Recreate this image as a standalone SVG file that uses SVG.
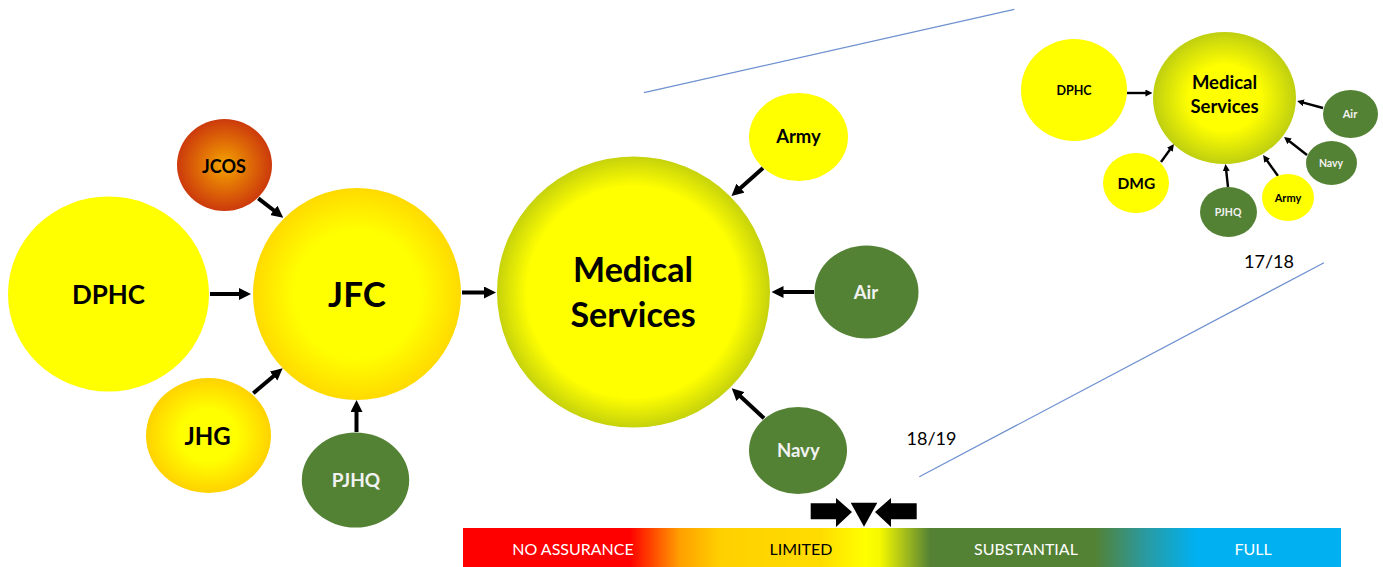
<svg xmlns="http://www.w3.org/2000/svg" width="1383" height="567" viewBox="0 0 1383 567">
<style>
.lb{font-family:Lato,"Open Sans","Liberation Sans",sans-serif;font-weight:700;text-anchor:middle;fill:#000}
.lw{fill:#F2F2F2}
.yel{fill:#FFFF00}
.grn{fill:#548235}
.ar{stroke:#000;stroke-width:4;fill:none;marker-end:url(#ah)}
.as{stroke:#000;stroke-width:2.4;fill:none;marker-end:url(#ahs)}
.yr{font-family:Lato,"Open Sans","Liberation Sans",sans-serif;font-size:18px;fill:#000;text-anchor:middle}
.bl{font-family:Lato,"Open Sans","Liberation Sans",sans-serif;font-size:16px;text-anchor:middle;fill:#fff}
.ln{stroke:#6E90D0;stroke-width:1.2;fill:none}
</style>
<defs>
<marker id="ah" viewBox="0 0 12 12" markerWidth="12" markerHeight="12" markerUnits="userSpaceOnUse" refX="1" refY="6" orient="auto"><path d="M0,0 L12,6 L0,12 Z" fill="#000"/></marker>
<marker id="ahs" viewBox="0 0 12 12" markerWidth="7" markerHeight="7" markerUnits="userSpaceOnUse" refX="1" refY="6" orient="auto"><path d="M0,0 L12,6 L0,12 Z" fill="#000"/></marker>
<radialGradient id="gGold"><stop offset="0.6" stop-color="#FFFF00"/><stop offset="1" stop-color="#FFDA00"/></radialGradient>
<radialGradient id="gJhg"><stop offset="0.45" stop-color="#FFFF00"/><stop offset="1" stop-color="#FFD200"/></radialGradient>
<radialGradient id="gJcos"><stop offset="0" stop-color="#F5A300"/><stop offset="1" stop-color="#CC3A0C"/></radialGradient>
<radialGradient id="gMed"><stop offset="0.78" stop-color="#FFFF00"/><stop offset="1" stop-color="#C6D20C"/></radialGradient>
<radialGradient id="gMedS"><stop offset="0.5" stop-color="#FFFF00"/><stop offset="1" stop-color="#BFCF10"/></radialGradient>
<linearGradient id="bar" x1="0" y1="0" x2="1" y2="0">
<stop offset="0" stop-color="#FF0000"/>
<stop offset="0.19" stop-color="#FF0000"/>
<stop offset="0.247" stop-color="#FFA000"/>
<stop offset="0.293" stop-color="#FFD000"/>
<stop offset="0.407" stop-color="#FFDC00"/>
<stop offset="0.458" stop-color="#FFFF00"/>
<stop offset="0.475" stop-color="#F4F800"/>
<stop offset="0.532" stop-color="#548235"/>
<stop offset="0.72" stop-color="#548235"/>
<stop offset="0.777" stop-color="#2A9AA0"/>
<stop offset="0.834" stop-color="#00B0F0"/>
<stop offset="1" stop-color="#00B0F0"/>
</linearGradient>
</defs>

<g id="timeline-lines">
<line class="ln" x1="644" y1="92.7" x2="1014.3" y2="9.3"/>
<line class="ln" x1="919.3" y1="476.7" x2="1324" y2="262.7"/>
<text class="yr" x="931.5" y="445">18/19</text>
<text class="yr" x="1269" y="268">17/18</text>
</g>

<g id="connectors">
<line class="ar" x1="210" y1="294" x2="240" y2="294"/>
<line class="ar" x1="462" y1="292.5" x2="485" y2="292.5"/>
<line class="ar" x1="258.3" y1="198.3" x2="274.6" y2="211"/>
<line class="ar" x1="253.3" y1="393.3" x2="274.3" y2="375.4"/>
<line class="ar" x1="356.5" y1="432" x2="356.5" y2="411"/>
<line class="ar" x1="763" y1="168" x2="739.7" y2="188.7"/>
<line class="ar" x1="814" y1="292" x2="782.5" y2="292"/>
<line class="ar" x1="764" y1="418.3" x2="739.8" y2="395.8"/>
<line class="as" x1="1127" y1="93" x2="1146" y2="93"/>
<line class="as" x1="1323" y1="108" x2="1303.3" y2="102.7"/>
<line class="as" x1="1307" y1="155" x2="1289.1" y2="141"/>
<line class="as" x1="1278" y1="176" x2="1266.8" y2="160.3"/>
<line class="as" x1="1228" y1="187" x2="1226.2" y2="170.5"/>
<line class="as" x1="1161" y1="162" x2="1170.2" y2="149.3"/>
</g>

<g id="node-dphc"><ellipse class="yel" cx="108.5" cy="294" rx="100.5" ry="97.5"/><text class="lb" x="108.5" y="304" font-size="26">DPHC</text></g>
<g id="node-jcos"><ellipse fill="url(#gJcos)" cx="224.5" cy="165" rx="47.5" ry="46"/><text class="lb" x="224" y="172.7" font-size="18">JCOS</text></g>
<g id="node-jfc"><ellipse fill="url(#gGold)" cx="357" cy="294" rx="104" ry="106"/><text class="lb" x="357" y="307" font-size="35">JFC</text></g>
<g id="node-jhg"><ellipse fill="url(#gJhg)" cx="208.5" cy="435.5" rx="62.5" ry="57.5"/><text class="lb" x="207.5" y="445" font-size="24">JHG</text></g>
<g id="node-pjhq"><ellipse class="grn" cx="355.5" cy="480" rx="53.7" ry="47.5"/><text class="lb lw" x="356" y="487.3" font-size="19">PJHQ</text></g>
<g id="node-medical"><ellipse fill="url(#gMed)" cx="633.5" cy="292" rx="136.5" ry="135.5"/><text class="lb" x="633" y="281.7" font-size="34">Medical</text><text class="lb" x="633" y="326.7" font-size="34">Services</text></g>
<g id="node-army"><ellipse class="yel" cx="798.5" cy="137" rx="49.5" ry="44"/><text class="lb" x="798.5" y="143.3" font-size="18.5">Army</text></g>
<g id="node-air"><ellipse class="grn" cx="866.5" cy="292" rx="52" ry="46.5"/><text class="lb lw" x="866" y="299" font-size="18.5">Air</text></g>
<g id="node-navy"><ellipse class="grn" cx="798" cy="450.5" rx="49" ry="43.5"/><text class="lb lw" x="798.3" y="457.3" font-size="18.5">Navy</text></g>

<g id="inset-dphc"><ellipse class="yel" cx="1074" cy="90" rx="53" ry="51"/><text class="lb" x="1074" y="95" font-size="12.5">DPHC</text></g>
<g id="inset-medical"><ellipse fill="url(#gMedS)" cx="1224.5" cy="98" rx="71.5" ry="66"/><text class="lb" x="1224.5" y="89" font-size="18.5">Medical</text><text class="lb" x="1224.5" y="112.7" font-size="18.5">Services</text></g>
<g id="inset-dmg"><ellipse class="yel" cx="1136" cy="183" rx="33" ry="30"/><text class="lb" x="1136.4" y="189.3" font-size="15.5">DMG</text></g>
<g id="inset-pjhq"><ellipse class="grn" cx="1228.5" cy="212" rx="28.5" ry="25"/><text class="lb lw" x="1228" y="216" font-size="10.5">PJHQ</text></g>
<g id="inset-army"><ellipse class="yel" cx="1288" cy="197.5" rx="26" ry="23.5"/><text class="lb" x="1288" y="201.7" font-size="11">Army</text></g>
<g id="inset-navy"><ellipse class="grn" cx="1331.5" cy="163" rx="25.5" ry="22"/><text class="lb lw" x="1331" y="167" font-size="10.5">Navy</text></g>
<g id="inset-air"><ellipse class="grn" cx="1350.5" cy="114" rx="27.5" ry="24"/><text class="lb lw" x="1350" y="117.7" font-size="11">Air</text></g>

<g id="assurance-scale">
<rect x="463" y="528" width="878" height="39" fill="url(#bar)"/>
<text class="bl" x="573" y="555">NO ASSURANCE</text>
<text class="bl" x="801" y="555" style="fill:#000">LIMITED</text>
<text class="bl" x="1026" y="555">SUBSTANTIAL</text>
<text class="bl" x="1253" y="555">FULL</text>
<path d="M810.7,503.3 H836 V498 L852,512 L836,527 V519.3 H810.7 Z" fill="#000"/>
<path d="M850.7,502.7 L877.3,502.7 L864,526.7 Z" fill="#000"/>
<path d="M916.7,503.3 H891 V498 L875,512 L891,527 V519.3 H916.7 Z" fill="#000"/>
</g>
</svg>
